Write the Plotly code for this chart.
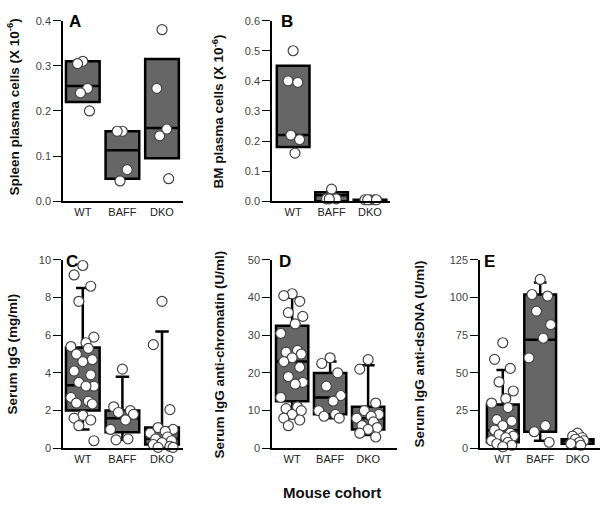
import plotly.graph_objects as go

W, H = 601, 507
groups = ["WT", "BAFF", "DKO"]

# ---------------- data ----------------
A_WT = [0.31, 0.305, 0.25, 0.24, 0.20]
A_BAFF = [0.155, 0.155, 0.07, 0.045]
A_DKO = [0.38, 0.25, 0.16, 0.145, 0.05]
A_q1 = [0.22, 0.05, 0.095]
A_med = [0.255, 0.113, 0.162]
A_q3 = [0.31, 0.155, 0.315]

B_WT = [0.50, 0.40, 0.395, 0.22, 0.205, 0.16]
B_BAFF = [0.04, 0.008, 0.008, 0.008]
B_DKO = [0.005, 0.005, 0.005, 0.005, 0.005]
B_q1 = [0.18, 0.0, 0.0]
B_med = [0.22, 0.02, 0.002]
B_q3 = [0.45, 0.03, 0.005]

C_WT = [9.7, 9.2, 8.6, 7.8, 5.9, 5.6, 5.4, 5.3, 5.0, 4.7, 4.6, 4.1, 3.9, 3.5,
        3.3, 3.3, 2.7, 2.5, 2.4, 2.35, 1.75, 1.6, 1.5, 1.2, 0.4]
C_BAFF = [4.2, 2.2, 2.0, 1.9, 1.8, 1.5, 1.0, 0.5, 0.45]
C_DKO = [7.8, 5.5, 2.05, 1.1, 1.0, 0.9, 0.8, 0.6, 0.5, 0.4, 0.3, 0.2, 0.1, 0.05, 0.05]
C_q1 = [2.0, 0.85, 0.2]
C_med = [3.35, 1.6, 0.5]
C_q3 = [5.35, 2.0, 1.1]
C_lo = [1.0, 0.45, 0.05]
C_hi = [8.5, 3.8, 6.2]

D_WT = [41, 40.5, 39, 36, 35, 33, 30.5, 26, 25.5, 25, 24, 23, 21.5, 19, 17.5,
        17, 13.5, 11, 10.5, 10, 9, 8, 7.5, 6]
D_BAFF = [24, 22.5, 20, 16.5, 14, 12.5, 10, 9, 8.5, 8]
D_DKO = [23.5, 21, 12, 10, 9, 8.5, 8, 7, 6, 5.5, 5, 4, 3]
D_q1 = [12.5, 9, 5]
D_med = [23, 13.5, 8]
D_q3 = [32.5, 20, 11]
D_lo = [8, 8, 3.5]
D_hi = [40, 23, 22]

E_WT = [70, 59, 53, 44, 38, 33, 30, 27, 19, 18, 15, 12, 10, 9, 8, 7, 5, 4, 3, 2, 1]
E_BAFF = [112, 102, 101, 91, 82, 73, 60, 15, 11, 4]
E_DKO = [10, 8, 7, 6, 5, 4, 3, 2]
E_q1 = [4, 11, 3]
E_med = [12, 72, 5]
E_q3 = [29, 102, 6]
E_lo = [1, 5, 1]
E_hi = [52, 110, 10]

y_titles = ["Spleen plasma cells (X 10<sup>-6</sup>)", "BM plasma cells (X 10<sup>-6</sup>)",
            "Serum IgG (mg/ml)", "Serum IgG anti-chromatin (U/ml)", "Serum IgG anti-dsDNA (U/ml)"]
letters = ["A", "B", "C", "D", "E"]

# ---------------- layout geometry (pixels) ----------------
def px(x):
    return x / W

def py(y):
    return 1 - y / H

panels = [
    dict(pts=[A_WT, A_BAFF, A_DKO], q1=A_q1, med=A_med, q3=A_q3, lo=A_q1, hi=A_q3,
         xd=(63, 183), yd=(200, 15), xr=(-0.5, 2.53), yr=(0, 0.4), dt=0.1, fmt=".1f",
         tx=13, ty=104, lx=67, ly=16),
    dict(pts=[B_WT, B_BAFF, B_DKO], q1=B_q1, med=B_med, q3=B_q3, lo=B_q1, hi=B_q3,
         xd=(272, 390), yd=(200, 15), xr=(-0.55, 2.52), yr=(0, 0.6), dt=0.1, fmt=".1f",
         tx=218, ty=108, lx=279, ly=16),
    dict(pts=[C_WT, C_BAFF, C_DKO], q1=C_q1, med=C_med, q3=C_q3, lo=C_lo, hi=C_hi,
         xd=(63, 183), yd=(453, 260), xr=(-0.5, 2.53), yr=(0, 10), dt=2, fmt="d",
         tx=13, ty=357, lx=64, ly=262),
    dict(pts=[D_WT, D_BAFF, D_DKO], q1=D_q1, med=D_med, q3=D_q3, lo=D_lo, hi=D_hi,
         xd=(272, 397), yd=(453, 260), xr=(-0.53, 2.76), yr=(0, 50), dt=10, fmt="d",
         tx=220, ty=357, lx=277, ly=262),
    dict(pts=[E_WT, E_BAFF, E_DKO], q1=E_q1, med=E_med, q3=E_q3, lo=E_lo, hi=E_hi,
         xd=(480, 600), yd=(453, 260), xr=(-0.61, 2.6), yr=(0, 125), dt=25, fmt="d",
         tx=420, ty=357, lx=482, ly=262),
]

cycle = [0.0, -0.22, 0.2, -0.1, 0.28, 0.08, -0.3, 0.14, -0.16, 0.24]

fig = go.Figure()
layout = dict(width=W, height=H, margin=dict(l=0, r=0, t=0, b=0),
              paper_bgcolor="white", plot_bgcolor="white", showlegend=False,
              font=dict(family="Liberation Sans, Arial", size=11, color="#333"),
              boxmode="overlay", annotations=[])

for i, p in enumerate(panels):
    n = "" if i == 0 else str(i + 1)
    xa, ya = "x" + n, "y" + n
    fig.add_trace(go.Box(
        x=[0, 1, 2], q1=p["q1"], median=p["med"], q3=p["q3"],
        lowerfence=p["lo"], upperfence=p["hi"], width=0.85, whiskerwidth=0.4,
        fillcolor="#666666", line=dict(color="black", width=2.5),
        boxpoints=False, xaxis=xa, yaxis=ya, hoverinfo="skip"))
    for g, vals in enumerate(p["pts"]):
        order = sorted(range(len(vals)), key=lambda k: -vals[k])
        scale = 1.0 if len(vals) > 8 else 0.6
        xs = [0] * len(vals)
        for rank, k in enumerate(order):
            xs[k] = g + cycle[rank % len(cycle)] * scale
        fig.add_trace(go.Scatter(
            x=xs, y=vals, mode="markers", cliponaxis=False,
            marker=dict(size=10, color="white", line=dict(color="#444", width=1.2)),
            xaxis=xa, yaxis=ya, hoverinfo="skip"))
    ticks = []
    v = p["yr"][0]
    while v <= p["yr"][1] + 1e-9:
        ticks.append(round(v, 4))
        v += p["dt"]
    layout["xaxis" + n] = dict(
        domain=[px(p["xd"][0]), px(p["xd"][1])], range=list(p["xr"]), anchor=ya,
        tickvals=[0, 1, 2], ticktext=groups, ticks="", showline=True,
        linecolor="black", linewidth=1.5, showgrid=False, zeroline=False,
        tickfont=dict(size=11, color="#222"), fixedrange=True)
    layout["yaxis" + n] = dict(
        domain=[py(p["yd"][0]), py(p["yd"][1])], range=list(p["yr"]), anchor=xa,
        tickvals=ticks, tickformat=p["fmt"], ticks="outside", ticklen=8,
        tickcolor="black", tickwidth=1.2, showline=True, linecolor="black",
        linewidth=1.5, showgrid=False, zeroline=False,
        tickfont=dict(size=11, color="#444"), fixedrange=True)
    layout["annotations"].append(dict(
        text="<b>" + y_titles[i] + "</b>", xref="paper", yref="paper",
        x=px(p["tx"]), y=py(p["ty"]),
        xanchor="center", yanchor="middle", textangle=-90, showarrow=False,
        font=dict(size=13.5, color="#111", family="Liberation Sans, Arial")))
    layout["annotations"].append(dict(
        text="<b>" + letters[i] + "</b>", xref="paper", yref="paper",
        x=px(p["lx"]), y=py(p["ly"]), xanchor="left", yanchor="middle",
        showarrow=False, font=dict(size=17, color="black")))

layout["annotations"].append(dict(
    text="<b>Mouse cohort</b>", xref="paper", yref="paper", x=px(332), y=py(498),
    xanchor="center", yanchor="middle", showarrow=False,
    font=dict(size=15, color="#111")))

fig.update_layout(**layout)
fig.write_html("out.html", post_script="document.body.style.margin='0';",
               config={"displayModeBar": False})
